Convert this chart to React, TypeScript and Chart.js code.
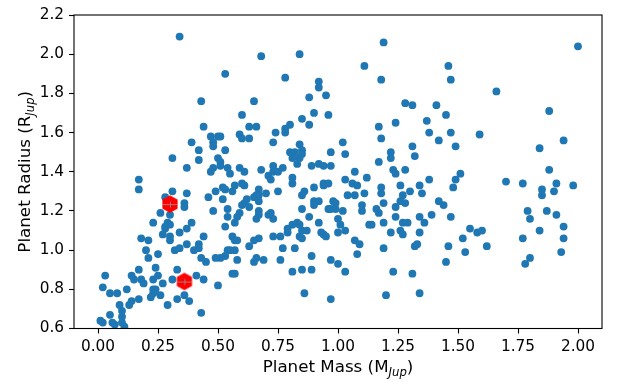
import React, { useEffect, useRef } from "react";
import { Chart, registerables } from "chart.js";

Chart.register(...registerables);

// Tick labels
const xTicks = [0, 0.25, 0.5, 0.75, 1.0, 1.25, 1.5, 1.75, 2.0];
const yTicks = [0.6, 0.8, 1.0, 1.2, 1.4, 1.6, 1.8, 2.0, 2.2];

// Planet mass (M_Jup) / radius (R_Jup), grouped by region of the plot
const massUpperLeft = [
  0.34, 0.53, 0.43, 0.60, 0.65, 0.63, 0.44, 0.47, 0.50, 0.51,
  0.48, 0.48, 0.39, 0.59, 0.60, 0.63, 0.42, 0.53, 0.31, 0.42,
  0.50, 0.51, 0.51, 0.37, 0.48, 0.54, 0.59, 0.47, 0.55,
];
const radiusUpperLeft = [
  2.09, 1.90, 1.76, 1.69, 1.76, 1.63, 1.63, 1.58, 1.58, 1.58,
  1.55, 1.53, 1.55, 1.59, 1.57, 1.57, 1.51, 1.51, 1.47, 1.46,
  1.47, 1.45, 1.43, 1.42, 1.42, 1.42, 1.42, 1.40, 1.39,
];

const massUpperMid = [
  0.68, 0.84, 1.19, 1.11, 1.18, 0.78, 0.92, 0.92, 0.95, 0.88,
  1.28, 1.31, 0.90, 0.96, 0.85, 0.88, 0.80, 0.66, 0.78, 0.78,
  0.74, 0.73, 0.84, 0.80, 0.82, 0.85, 0.85, 0.81, 0.84, 0.83,
  0.89, 0.92, 0.94, 0.97, 0.97, 1.02, 1.03, 1.17, 1.18, 1.24,
  1.22, 1.22, 1.17, 1.31, 1.32, 1.37, 1.38, 1.28, 1.23, 1.24,
  1.07, 0.68, 0.73, 0.77, 0.73, 0.75,
];
const radiusUpperMid = [
  1.99, 2.00, 2.06, 1.94, 1.87, 1.88, 1.86, 1.83, 1.79, 1.78,
  1.75, 1.74, 1.70, 1.69, 1.67, 1.64, 1.64, 1.63, 1.62, 1.60,
  1.60, 1.55, 1.54, 1.50, 1.50, 1.51, 1.49, 1.47, 1.47, 1.44,
  1.43, 1.44, 1.43, 1.43, 1.50, 1.55, 1.49, 1.63, 1.57, 1.65,
  1.50, 1.47, 1.45, 1.53, 1.48, 1.66, 1.60, 1.41, 1.41, 1.39,
  1.40, 1.41, 1.43, 1.42, 1.40, 1.40,
];

const massUpperRight = [2.00, 1.46, 1.47, 1.66, 1.41, 1.45, 1.88, 1.47, 1.42, 1.49, 1.59, 1.94, 1.84, 1.88, 1.51];
const radiusUpperRight = [2.04, 1.94, 1.87, 1.81, 1.74, 1.69, 1.71, 1.60, 1.56, 1.53, 1.59, 1.56, 1.52, 1.41, 1.39];

const massLowerLeft = [
  0.17, 0.17, 0.31, 0.37, 0.28, 0.36, 0.36, 0.26, 0.30, 0.23,
  0.29, 0.28, 0.28, 0.30, 0.39, 0.37, 0.34, 0.27, 0.30, 0.30,
  0.18, 0.21, 0.37, 0.42, 0.40, 0.42, 0.44, 0.32, 0.34, 0.20,
  0.25, 0.21, 0.43, 0.45, 0.48, 0.46, 0.49, 0.52, 0.53, 0.57,
  0.60, 0.61, 0.56, 0.54, 0.52, 0.62, 0.61, 0.60, 0.59, 0.58,
  0.54, 0.57, 0.53, 0.56, 0.57, 0.58, 0.63, 0.54, 0.55, 0.57,
  0.53, 0.51, 0.49, 0.58, 0.56, 0.57, 0.50, 0.03, 0.02, 0.05,
  0.08, 0.12, 0.14, 0.17, 0.15, 0.18, 0.19, 0.23, 0.25, 0.24,
  0.27, 0.23, 0.24, 0.23, 0.22, 0.26, 0.17, 0.14, 0.13, 0.09,
  0.10, 0.05, 0.10, 0.01, 0.02, 0.06, 0.07, 0.10, 0.11, 0.29,
  0.33, 0.36, 0.38, 0.31, 0.33, 0.41, 0.44, 0.43,
];
const radiusLowerLeft = [
  1.36, 1.31, 1.30, 1.29, 1.27, 1.24, 1.22, 1.19, 1.18, 1.14,
  1.14, 1.11, 1.12, 1.13, 1.14, 1.11, 1.09, 1.08, 1.07, 1.05,
  1.06, 1.05, 1.03, 1.03, 1.00, 1.01, 1.07, 1.00, 1.01, 1.00,
  0.98, 0.96, 0.96, 0.94, 1.20, 1.27, 1.30, 1.32, 1.31, 1.33,
  1.34, 1.33, 1.30, 1.21, 1.26, 1.26, 1.24, 1.23, 1.19, 1.17,
  1.17, 1.14, 1.12, 1.07, 1.05, 1.05, 1.02, 1.00, 1.00, 1.00,
  0.97, 0.96, 0.96, 0.95, 0.88, 0.88, 0.82, 0.87, 0.81, 0.78,
  0.78, 0.80, 0.87, 0.90, 0.85, 0.85, 0.83, 0.85, 0.87, 0.91,
  0.83, 0.80, 0.80, 0.78, 0.76, 0.77, 0.75, 0.74, 0.72, 0.72,
  0.69, 0.67, 0.66, 0.64, 0.63, 0.63, 0.62, 0.63, 0.61, 0.72,
  0.75, 0.77, 0.74, 0.85, 0.90, 0.87, 0.85, 0.68,
];

const massLowerMid = [
  0.71, 0.72, 0.81, 0.81, 0.90, 0.94, 0.94, 0.96, 0.86, 0.85,
  0.75, 0.67, 0.66, 0.65, 0.67, 0.67, 0.70, 0.90, 0.92, 0.90,
  0.98, 0.99, 0.85, 0.96, 0.97, 0.99, 1.02, 0.67, 0.67, 0.66,
  0.71, 0.72, 0.73, 0.88, 0.92, 1.00, 1.01, 0.83, 0.84, 0.81,
  0.79, 0.79, 0.85, 0.87, 0.84, 0.85, 0.93, 0.94, 0.95, 1.00,
  1.03, 0.76, 0.73, 0.67, 0.65, 0.77, 0.82, 0.66, 0.65, 0.69,
  0.76, 0.89, 0.81, 0.85, 0.89, 0.97, 1.00, 1.03, 0.86, 0.97,
  1.07, 1.09, 1.08, 1.03, 1.06, 1.08, 1.04, 1.07, 1.11, 1.12,
  1.10, 1.10, 1.13, 1.14, 1.16, 1.17, 1.18, 1.18, 1.19, 1.19,
  1.19, 1.22, 1.23, 1.20, 1.26, 1.27, 1.24, 1.26, 1.28, 1.30,
  1.34, 1.35, 1.24, 1.26, 1.27, 1.27, 1.29, 1.34, 1.36, 1.34,
  1.32, 1.33, 1.31, 1.34, 1.39, 1.38,
];
const radiusLowerMid = [
  1.38, 1.36, 1.37, 1.34, 1.32, 1.34, 1.33, 1.34, 1.30, 1.28,
  1.30, 1.31, 1.28, 1.27, 1.28, 1.25, 1.29, 1.25, 1.25, 1.23,
  1.25, 1.24, 1.21, 1.21, 1.21, 1.21, 1.20, 1.20, 1.18, 1.16,
  1.18, 1.19, 1.16, 1.17, 1.14, 1.16, 1.13, 1.14, 1.13, 1.13,
  1.11, 1.09, 1.10, 1.10, 1.07, 1.06, 1.09, 1.08, 1.07, 1.09,
  1.10, 1.07, 1.07, 1.06, 1.05, 1.01, 1.01, 0.96, 0.94, 0.95,
  0.95, 0.97, 0.89, 0.90, 0.90, 0.95, 0.93, 0.89, 0.78, 0.75,
  1.05, 1.03, 0.98, 1.36, 1.34, 1.33, 1.28, 1.28, 1.29, 1.37,
  1.23, 1.20, 1.13, 1.13, 1.21, 1.19, 1.32, 1.29, 1.24, 1.14,
  1.01, 1.09, 0.89, 0.77, 1.33, 1.28, 1.22, 1.25, 1.24, 1.30,
  1.33, 1.29, 1.17, 1.10, 1.08, 1.14, 1.14, 1.17, 1.14, 1.09,
  1.02, 1.03, 0.88, 0.78, 1.18, 1.36,
];

const massLowerRight = [
  1.49, 1.48, 1.70, 1.77, 1.91, 1.90, 1.98, 1.85, 1.85, 1.42,
  1.44, 1.47, 1.79, 1.80, 1.87, 1.91, 1.94, 1.94, 1.93, 1.84,
  1.77, 1.80, 1.78, 1.55, 1.58, 1.60, 1.52, 1.62, 1.46, 1.53,
  1.45, 0.61, 0.63,
];
const radiusLowerRight = [
  1.36, 1.32, 1.35, 1.34, 1.34, 1.30, 1.33, 1.31, 1.28, 1.25,
  1.23, 1.17, 1.20, 1.16, 1.20, 1.18, 1.12, 1.06, 0.99, 1.10,
  1.06, 0.96, 0.93, 1.11, 1.09, 1.10, 1.06, 1.02, 1.02, 0.99,
  0.94, 1.40, 1.22,
];

// Highlighted planets (red hexagons)
const highlightMass = [0.30, 0.36];
const highlightRadius = [1.235, 0.84];

const planetMass = [
  ...massUpperLeft, ...massUpperMid, ...massUpperRight,
  ...massLowerLeft, ...massLowerMid, ...massLowerRight,
];
const planetRadius = [
  ...radiusUpperLeft, ...radiusUpperMid, ...radiusUpperRight,
  ...radiusLowerLeft, ...radiusLowerMid, ...radiusLowerRight,
];

const FONT = '"DejaVu Sans", "Liberation Sans", sans-serif';

function makeHexagon(): HTMLCanvasElement {
  const c = document.createElement("canvas");
  c.width = 20;
  c.height = 20;
  const g = c.getContext("2d")!;
  g.beginPath();
  for (let i = 0; i < 6; i++) {
    const a = -Math.PI / 2 + (i * Math.PI) / 3;
    const px = 10 + 8.8 * Math.cos(a);
    const py = 10 + 8.8 * Math.sin(a);
    if (i === 0) g.moveTo(px, py);
    else g.lineTo(px, py);
  }
  g.closePath();
  g.fillStyle = "#ff0000";
  g.fill();
  g.strokeStyle = "rgba(150,150,150,0.8)";
  g.lineWidth = 1;
  g.beginPath();
  g.moveTo(2, 10.5);
  g.lineTo(18, 10.5);
  g.moveTo(10.5, 7.5);
  g.lineTo(10.5, 13.5);
  g.stroke();
  return c;
}

function drawSubLabel(
  ctx: CanvasRenderingContext2D,
  main: string,
  sub: string,
  close: string,
  x: number,
  y: number,
  rotate: boolean
) {
  const mainFont = `16.7px ${FONT}`;
  const subFont = `italic 11.7px ${FONT}`;
  ctx.save();
  ctx.font = mainFont;
  const w1 = ctx.measureText(main).width;
  const w3 = ctx.measureText(close).width;
  ctx.font = subFont;
  const w2 = ctx.measureText(sub).width;
  const total = w1 + w2 + w3;
  ctx.translate(x, y);
  if (rotate) ctx.rotate(-Math.PI / 2);
  ctx.fillStyle = "#000";
  ctx.textAlign = "left";
  ctx.textBaseline = "alphabetic";
  let cx = -total / 2;
  ctx.font = mainFont;
  ctx.fillText(main, cx, 0);
  cx += w1;
  ctx.font = subFont;
  ctx.fillText(sub, cx, 3.5);
  cx += w2;
  ctx.font = mainFont;
  ctx.fillText(close, cx, 0);
  ctx.restore();
}

const framePlugin = {
  id: "frameAndTitles",
  afterDraw(chart: any) {
    const ctx: CanvasRenderingContext2D = chart.ctx;
    const { left, top, right, bottom } = chart.chartArea;
    ctx.save();
    ctx.strokeStyle = "#000";
    ctx.lineWidth = 1.1;
    ctx.strokeRect(left, top, right - left, bottom - top);
    ctx.restore();
    drawSubLabel(ctx, "Planet Mass (M", "Jup", ")", (left + right) / 2, 372, false);
    drawSubLabel(ctx, "Planet Radius (R", "Jup", ")", 30, (top + bottom) / 2, true);
  },
};

export default function App() {
  const ref = useRef<HTMLCanvasElement>(null);

  useEffect(() => {
    document.body.style.margin = "0";
    const hex = makeHexagon();
    const blue = planetMass.map((m, i) => ({ x: m, y: planetRadius[i] }));
    const red = highlightMass.map((m, i) => ({ x: m, y: highlightRadius[i] }));

    const tickFont = { family: FONT, size: 15.3 };

    const chart = new Chart(ref.current!, {
      type: "scatter",
      data: {
        datasets: [
          {
            data: red,
            pointStyle: hex as any,
            pointRadius: 9,
            order: 0,
          },
          {
            data: blue,
            backgroundColor: "#1f77b4",
            borderColor: "#1f77b4",
            borderWidth: 0,
            pointRadius: 3.9,
            order: 1,
          },
        ],
      },
      options: {
        responsive: false,
        animation: false,
        events: [],
        layout: { padding: { left: 0, right: 17, top: 15, bottom: 0 } },
        plugins: {
          legend: { display: false },
          tooltip: { enabled: false },
        },
        scales: {
          x: {
            type: "linear",
            min: -0.1,
            max: 2.1,
            afterBuildTicks: (s: any) => {
              s.ticks = xTicks.map((v) => ({ value: v }));
            },
            afterFit: (s: any) => {
              s.height = 53.5;
            },
            ticks: {
              autoSkip: false,
              maxRotation: 0,
              minRotation: 0,
              padding: 4,
              color: "#000",
              font: tickFont,
              callback: (v: any) => Number(v).toFixed(2),
            },
            grid: {
              drawOnChartArea: false,
              drawTicks: true,
              tickLength: 5,
              tickColor: "#000",
              tickWidth: 1.1,
            },
            border: { display: false },
          },
          y: {
            type: "linear",
            min: 0.6,
            max: 2.2,
            afterBuildTicks: (s: any) => {
              s.ticks = yTicks.map((v) => ({ value: v }));
            },
            afterFit: (s: any) => {
              s.width = 74;
            },
            ticks: {
              autoSkip: false,
              padding: 5,
              color: "#000",
              font: tickFont,
              callback: (v: any) => Number(v).toFixed(1),
            },
            grid: {
              drawOnChartArea: false,
              drawTicks: true,
              tickLength: 5,
              tickColor: "#000",
              tickWidth: 1.1,
            },
            border: { display: false },
          },
        },
      },
      plugins: [framePlugin],
    });
    return () => chart.destroy();
  }, []);

  return (
    <canvas
      ref={ref}
      width={619}
      height={382}
      style={{ display: "block", width: 619, height: 382 }}
    />
  );
}
